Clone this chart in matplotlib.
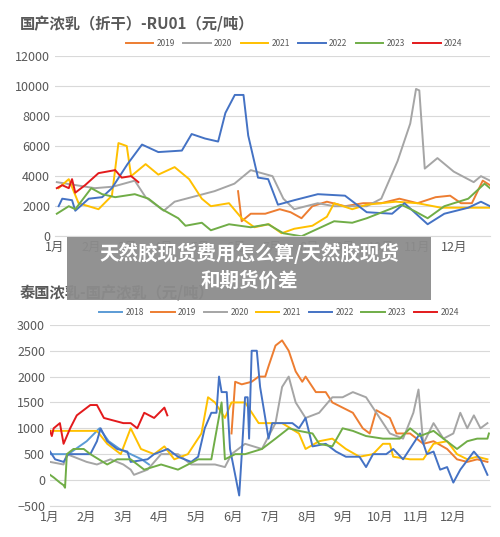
import matplotlib
matplotlib.use("Agg")
import matplotlib.pyplot as plt
from matplotlib.patches import Rectangle

plt.rcParams['font.family'] = ['Noto Sans CJK SC', 'DejaVu Sans']

months = ['1月','2月','3月','4月','5月','6月','7月','8月','9月','10月','11月','12月']
colors = {'2018':'#5B9BD5','2019':'#ED7D31','2020':'#A5A5A5','2021':'#FFC000',
          '2022':'#4472C4','2023':'#70AD47','2024':'#E31A1C'}

# ---- top chart: 国产浓乳(折干)-RU01 ----
t2019_x = [5.05,5.15,5.4,5.8,6.2,6.5,6.8,7.1,7.5,8.0,8.5,9.0,9.5,10.0,10.5,10.9,11.2,11.5,11.8,12.0]
t2019_y = [3000,1000,1500,1500,1800,1600,1200,2000,2300,2000,2200,2200,2500,2200,2600,2700,2200,2200,3700,3400]
t2020_x = [0.05,1.1,1.6,2.2,2.5,3.0,3.3,4.4,4.95,5.4,6.0,6.3,6.6,7.25,7.7,8.6,9.0,9.45,9.8,9.96,10.05,10.2,10.55,11.0,11.55,11.75,12.0]
t2020_y = [3600,3200,3300,3700,2600,1700,2300,3000,3500,4400,4000,2500,1800,2200,2000,2000,2500,5000,7500,9800,9700,4500,5200,4300,3600,4000,3700]
t2021_x = [0.1,0.38,0.65,1.2,1.57,1.75,1.98,2.1,2.5,2.85,3.3,3.7,4.05,4.3,4.8,5.15,5.5,5.9,6.25,6.6,7.1,7.5,7.7,8.2,8.6,9.4,10.0,10.65,11.4,12.0]
t2021_y = [3200,3800,2200,1800,2700,6200,6000,4000,4800,4100,4600,3800,2500,2000,2200,1200,600,800,200,500,700,1300,2200,1800,2100,2300,2200,1900,1900,1900]
t2022_x = [0.1,0.2,0.47,0.56,0.93,1.3,1.57,2.0,2.4,2.85,3.5,3.77,4.14,4.5,4.7,4.96,5.2,5.33,5.6,5.88,6.15,6.6,7.25,8.0,8.6,9.3,9.64,10.28,10.74,11.4,11.75,12.0]
t2022_y = [2000,2500,2400,1700,2500,2600,3200,4800,6100,5600,5700,6800,6500,6300,8200,9400,9400,6700,3900,3800,2100,2400,2800,2700,1600,1500,2200,800,1500,1900,2300,2000]
t2023_x = [0.05,0.38,0.56,1.0,1.3,1.66,2.2,2.58,2.95,3.4,3.6,4.05,4.3,4.8,5.4,5.88,6.3,6.8,7.25,7.7,8.2,8.6,9.55,9.9,10.28,10.74,11.4,11.85,12.0]
t2023_y = [1500,2000,1800,3200,2800,2600,2800,2500,1800,1200,700,900,400,800,600,800,200,0,500,1000,900,1200,2100,1700,1200,2000,2500,3500,3200]
t2024_x = [0.05,0.2,0.38,0.47,0.56,0.83,1.2,1.66,1.84,2.1,2.3]
t2024_y = [3200,3400,3200,3800,2900,3400,4200,4400,3900,4000,3600]

# ---- bottom chart: 泰国浓乳-国产浓乳 ----
b2018_x = [0,0.5,1.0,1.35,1.6,1.9,2.2,2.5,2.7]
b2018_y = [500,500,750,1000,750,600,500,400,300]
b2019_x = [4.95,5.05,5.23,5.5,5.69,5.87,5.96,6.15,6.33,6.51,6.7,6.88,6.97,7.25,7.52,7.7,7.98,8.26,8.53,8.72,8.9,9.27,9.45,9.82,10.18,10.46,10.83,11.1,11.38,11.65,11.93]
b2019_y = [900,1900,1850,1900,2000,2000,2200,2600,2700,2500,2100,1900,2000,1700,1700,1500,1400,1300,1000,900,1350,1200,900,900,700,750,600,400,350,400,350]
b2020_x = [0,0.37,0.46,1.0,1.28,1.65,2.0,2.2,2.29,2.66,3.03,3.49,3.85,4.5,4.77,4.95,5.32,5.78,6.15,6.33,6.51,6.7,6.97,7.34,7.7,7.98,8.26,8.62,8.9,9.27,9.63,9.91,10.05,10.18,10.46,10.73,11.0,11.19,11.38,11.56,11.74,11.93]
b2020_y = [350,300,500,350,300,400,300,200,100,200,500,500,300,300,250,500,700,600,1100,1800,2000,1500,1200,1300,1600,1600,1700,1600,1300,900,800,1300,1750,700,1100,800,900,1300,1000,1250,1000,1100]
b2021_x = [0,1.28,1.56,1.93,2.2,2.48,2.84,3.12,3.39,3.76,4.13,4.31,4.5,4.77,4.95,5.32,5.69,6.33,6.79,6.97,7.34,7.7,8.07,8.44,8.81,9.08,9.27,9.36,9.82,10.18,10.46,10.83,11.1,11.38,11.65,11.93]
b2021_y = [950,950,700,500,1000,600,500,650,400,500,900,1600,1500,1200,1500,1500,1100,1100,900,600,750,800,600,450,500,700,700,450,400,400,700,750,500,400,450,400]
b2022_x = [0,0.14,0.37,0.5,1.1,1.28,1.38,1.56,1.83,2.11,2.2,2.66,2.84,3.21,3.49,3.85,4.04,4.22,4.4,4.54,4.61,4.68,4.82,4.91,5.05,5.16,5.23,5.32,5.39,5.43,5.5,5.64,5.73,5.87,5.96,6.06,6.33,6.61,6.79,6.97,7.16,7.52,7.8,8.07,8.44,8.62,8.81,9.17,9.36,9.63,10.09,10.28,10.46,10.64,10.83,11.0,11.19,11.56,11.74,11.93]
b2022_y = [550,400,350,500,500,750,1000,750,600,550,350,400,500,600,450,350,450,1000,1300,1300,2000,1700,1700,600,100,-300,500,1600,1600,800,2500,2500,1800,1200,800,1100,1100,1100,1000,1200,650,700,550,450,450,250,500,500,600,400,900,500,550,200,250,-50,200,550,400,100]
b2023_x = [0,0.1,0.27,0.37,0.41,0.46,0.64,0.92,1.1,1.56,1.83,2.2,2.57,3.03,3.49,4.04,4.4,4.68,4.77,5.05,5.32,5.78,6.15,6.51,6.79,7.16,7.34,7.7,7.98,8.26,8.62,9.08,9.54,9.82,10.09,10.46,10.73,11.1,11.38,11.65,11.93,11.97]
b2023_y = [100,50,-50,-100,-150,500,600,600,500,300,400,400,200,300,200,400,400,1500,400,500,500,600,800,1000,950,900,700,650,1000,950,850,800,800,1000,850,950,800,600,750,800,800,900]
b2024_x = [0,0.05,0.1,0.27,0.37,0.55,0.73,1.1,1.28,1.47,2.0,2.2,2.38,2.57,2.84,3.12,3.2]
b2024_y = [950,850,1000,1100,700,1000,1250,1450,1450,1200,1100,1100,1000,1300,1200,1400,1250]

top_series = [('2019',t2019_x,t2019_y),('2020',t2020_x,t2020_y),('2021',t2021_x,t2021_y),
              ('2022',t2022_x,t2022_y),('2023',t2023_x,t2023_y),('2024',t2024_x,t2024_y)]
bot_series = [('2018',b2018_x,b2018_y),('2019',b2019_x,b2019_y),('2020',b2020_x,b2020_y),
              ('2021',b2021_x,b2021_y),('2022',b2022_x,b2022_y),('2023',b2023_x,b2023_y),
              ('2024',b2024_x,b2024_y)]

fig = plt.figure(figsize=(5.0, 5.37), dpi=100)
fig.patch.set_facecolor('white')

def style(ax, ylim, yticks):
    ax.set_xlim(0, 12)
    ax.set_ylim(*ylim)
    ax.set_yticks(yticks)
    ax.set_xticks(range(12))
    ax.set_xticklabels(months)
    for s in ['top','right','left']:
        ax.spines[s].set_visible(False)
    ax.spines['bottom'].set_color('#d9d9d9')
    ax.grid(axis='y', color='#d9d9d9', lw=0.8)
    ax.set_axisbelow(True)
    ax.tick_params(length=0, colors='#595959', labelsize=9)

ax1 = fig.add_axes([0.11, 0.56, 0.87, 0.336])
for name, x, y in top_series:
    ax1.plot(x, y, color=colors[name], lw=1.4, label=name)
style(ax1, (0, 12000), range(0, 12001, 2000))
ax1.legend(loc='lower center', bbox_to_anchor=(0.55, 1.0), ncol=6, frameon=False,
           fontsize=6, handlelength=3.3, handletextpad=0.4, columnspacing=1.0, labelcolor='#595959')
fig.text(0.04, 0.957, '国产浓乳（折干）-RU01（元/吨）', fontsize=11, weight='bold', color='#595959', va='center')

ax2 = fig.add_axes([0.10, 0.058, 0.88, 0.337])
for name, x, y in bot_series:
    ax2.plot(x, y, color=colors[name], lw=1.4, label=name)
style(ax2, (-500, 3000), range(-500, 3001, 500))
ax2.legend(loc='lower center', bbox_to_anchor=(0.52, 1.0), ncol=7, frameon=False,
           fontsize=6, handlelength=2.8, handletextpad=0.4, columnspacing=0.9, labelcolor='#595959')
fig.text(0.04, 0.455, '泰国浓乳-国产浓乳（元/吨）', fontsize=11, weight='bold', color='#595959', va='center')

# overlay banner
fig.patches.append(Rectangle((67/500, 1-300/537), 364/500, 63/537, transform=fig.transFigure,
                             facecolor='#8c8c8c', alpha=0.95, zorder=10))
fig.text(249/500, 1-253/537, '天然胶现货费用怎么算/天然胶现货', fontsize=14, weight='bold',
         color='white', ha='center', va='center', zorder=11)
fig.text(249/500, 1-281/537, '和期货价差', fontsize=14, weight='bold',
         color='white', ha='center', va='center', zorder=11)

fig.savefig('out.png', dpi=100)
